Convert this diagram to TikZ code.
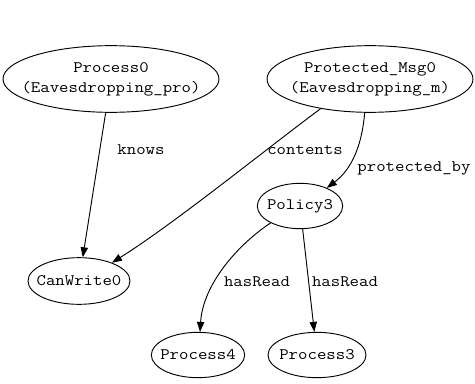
\documentclass[tikz,border=0pt]{standalone}
\usepackage{fontspec}
\setmonofont{Latin Modern Mono}[FakeStretch=1.143]
\usetikzlibrary{shapes.geometric, arrows.meta}

\begin{document}
\begin{tikzpicture}[
    x=0.75pt, y=0.75pt,
    entity/.style={ellipse, draw, line width=0.7pt, inner sep=-12pt, align=center, font=\ttfamily\fontsize{12}{15}\selectfont},
    rel/.style={-{Triangle[length=7.5pt, width=5.5pt]}, line width=0.7pt},
    tag/.style={font=\ttfamily\fontsize{12}{15}\selectfont, inner sep=0pt},
]
    \useasboundingbox (0,0) rectangle (475,383);

    % Top row
    \node[entity, minimum width=162pt, minimum height=50pt] (proc0) at (111,304) {Process0\\(Eavesdropping\_pro)};
    \node[entity, minimum width=154.5pt, minimum height=50pt] (pmsg) at (370,304) {Protected\_Msg0\\(Eavesdropping\_m)};

    % Middle row
    \node[entity, minimum width=76.5pt, minimum height=35pt] (canw) at (79,102) {CanWrite0};
    \node[entity, minimum width=64pt, minimum height=34pt] (pol3) at (300,177) {Policy3};

    % Bottom row
    \node[entity, minimum width=70pt, minimum height=34pt] (proc4) at (198,28) {Process4};
    \node[entity, minimum width=73.5pt, minimum height=34pt] (proc3) at (317,28) {Process3};

    % Edges
    \draw[rel] (proc0) -- (canw);
    \draw[rel] (pmsg.211) .. controls (265,233) and (175,160) .. (canw.29);
    \draw[rel] (pmsg.261) .. controls (362,238) and (352,214) .. (pol3.34);
    \draw[rel] (pol3.210) .. controls (240,140) and (203,100) .. (proc4.85);
    \draw[rel] (pol3) -- (proc3);

    % Edge labels
    \node[tag] (lknows) at (141,233) {knows};
    \node[tag] (lcont) at (305,233) {contents};
    \node[tag] (lprot) at (414,215) {protected\_by};
    \node[tag] (lread4) at (257,101) {hasRead};
    \node[tag] (lread3) at (345,101) {hasRead};
\end{tikzpicture}
\end{document}
